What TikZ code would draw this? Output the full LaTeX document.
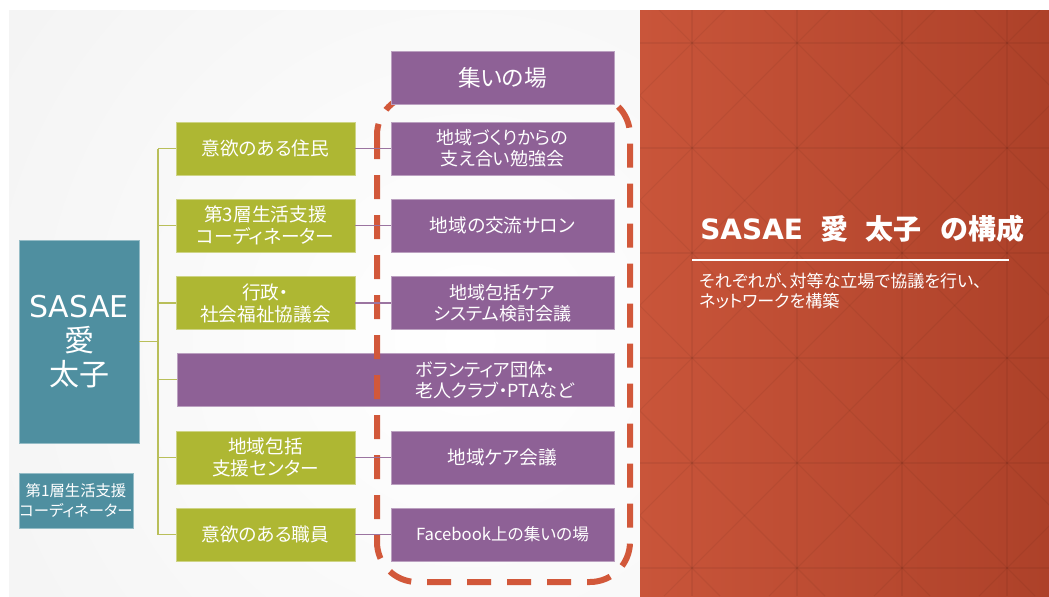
\documentclass[tikz,border=0pt]{standalone}
\usepackage{fontspec}
\setmainfont[RawFeature=+palt]{Noto Sans CJK JP}
\newfontfamily\latfont{DejaVu Sans}
\usetikzlibrary{calc}
\definecolor{teal1}{HTML}{4F8FA0}
\definecolor{olive1}{HTML}{AEB733}
\definecolor{purp1}{HTML}{8E6196}
\definecolor{orL}{HTML}{C9553A}
\definecolor{orR}{HTML}{AD4129}
\definecolor{dash1}{HTML}{D2583A}
\definecolor{treec}{HTML}{B9BF5A}
\definecolor{plc}{HTML}{9B74A0}
\begin{document}
\begin{tikzpicture}[x=0.75pt,y=-0.75pt,
  box/.style={rectangle, inner sep=0pt, text=white, align=center, minimum height=39.75pt},
  gbox/.style={box, fill=olive1, draw=olive1!60!white, line width=0.6pt, minimum width=134.25pt, font=\fontsize{14}{16.5}\selectfont},
  pbox/.style={box, fill=purp1, draw=purp1!60!white, line width=0.6pt, minimum width=167.25pt, font=\fontsize{13.5}{16}\selectfont},
  tbox/.style={box, fill=teal1, draw=teal1!60!white, line width=0.6pt},
  tree/.style={draw=treec, line width=1pt},
  pline/.style={draw=plc, line width=1pt},
  dashbox/.style={draw=dash1, line width=4.5pt, dash pattern=on 18pt off 12pt, rounded corners=30pt},
  pat/.style={draw=black, draw opacity=0.05, line width=0.8pt}
]
\useasboundingbox (0,0) rectangle (1049,596);
\fill[white] (0,0) rectangle (1049,596);
% left panel
\begin{scope}
  \clip (9,10) rectangle (640,596);
  \fill[black!7] (9,10) rectangle (640,596);
  \shade[inner color=white, outer color=black!7] (470,340) circle (900);
\end{scope}
% right panel
\shade[left color=orL, right color=orR] (640,10) rectangle (1049,596);
\begin{scope}
  \clip (640,10) rectangle (1049,596);
  \foreach \k in {0,...,3} { \draw[pat] (692+105*\k,10) -- (692+105*\k,596); }
  \foreach \k in {0,...,5} { \draw[pat] (640,43+105*\k) -- (1049,43+105*\k); }
  \foreach \k in {-6,...,4} { \draw[pat] (659+105*\k,10) -- (1245+105*\k,596); }
  \foreach \k in {-1,...,9} { \draw[pat] (725+105*\k,10) -- (139+105*\k,596); }
\end{scope}

% left boxes
\node[tbox, minimum width=90pt, minimum height=152.25pt, font=\fontsize{22.5}{25.5}\selectfont] (sasae) at (79,341.5) {{\latfont SASAE}\\愛\\太子};
\node[tbox, minimum width=85.5pt, minimum height=41.25pt, font=\fontsize{11.5}{14.5}\selectfont] (coord1) at (76,500.5) {第1層生活支援\\コーディネーター};

% green boxes
\node[gbox] (g1) at (265.5,148.5) {意欲のある住民};
\node[gbox] (g2) at (265.5,225.5) {第3層生活支援\\コーディネーター};
\node[gbox] (g3) at (265.5,303) {行政・\\社会福祉協議会};
\node[gbox] (g5) at (265.5,457.5) {地域包括\\支援センター};
\node[gbox] (g6) at (265.5,534.5) {意欲のある職員};

% wide purple box
\node[box, fill=purp1, draw=purp1!60!white, line width=0.6pt, minimum width=327.75pt] (wide) at (395.5,379.5) {};
\node[anchor=west, text=white, align=left, inner sep=0pt, font=\fontsize{13.5}{15.5}\selectfont] (widetext) at (415,380) {ボランティア団体・\\老人クラブ・PTAなど};

% tree
\coordinate (bus) at (158,0);
\draw[tree] (sasae.east) -- (sasae.east -| bus);
\draw[tree] (bus |- g1.west) -- (bus |- g6.west);
\foreach \n in {g1,g2,g3,wide,g5,g6} { \draw[tree] (bus |- \n.west) -- (\n.west); }

% dashed region
\draw[dashbox] (377,95) rectangle (630,582);

% purple boxes
\node[pbox, font=\fontsize{17}{20}\selectfont] (p0) at (502.5,78) {集いの場};
\node[pbox] (p1) at (502.5,148.5) {地域づくりからの\\支え合い勉強会};
\node[pbox, font=\fontsize{14}{16}\selectfont] (p2) at (502.5,225.5) {地域の交流サロン};
\node[pbox] (p3) at (502.5,303) {地域包括ケア\\システム検討会議};
\node[pbox, font=\fontsize{14}{16}\selectfont] (p5) at (502.5,457.5) {地域ケア会議};
\node[pbox, font=\fontsize{12.5}{15}\selectfont] (p6) at (502.5,534.5) {Facebook上の集いの場};

\foreach \a/\b in {g1/p1,g2/p2,g3/p3,g5/p5,g6/p6} { \draw[pline] (\a.east) -- (\b.west); }

% right text
\node[anchor=west, text=white, inner sep=0pt, font=\fontsize{21}{24}\selectfont\bfseries] (title) at (700,229) {{\latfont\bfseries SASAE}\hspace{13pt}愛\hspace{13pt}太子\hspace{14pt}の構成};
\coordinate (ruleL) at (692,260);
\coordinate (ruleR) at (1009,260);
\draw[white, line width=1.5pt] (ruleL) -- (ruleR);
\node[anchor=north west, text=white, align=left, inner sep=0pt, font=\fontsize{12.8}{15}\selectfont] (sub) at (699,273) {それぞれが、対等な立場で協議を行い、\\ネットワークを構築};
\end{tikzpicture}
\end{document}
